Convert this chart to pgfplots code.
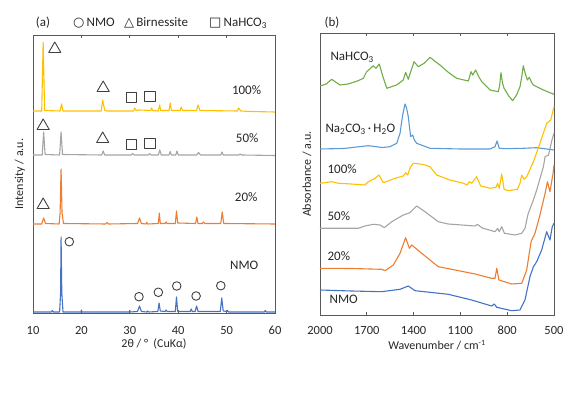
\documentclass[border=0pt]{standalone}
\usepackage{fontspec}
\setmainfont{Carlito}
\newfontfamily\symfont{DejaVu Sans}
\usepackage{pgfplots}
\pgfplotsset{compat=1.18}
\definecolor{cyel}{HTML}{FFC000}
\definecolor{cgry}{HTML}{A5A5A5}
\definecolor{corg}{HTML}{ED7D31}
\definecolor{cblu}{HTML}{4472C4}
\definecolor{clbl}{HTML}{5B9BD5}
\definecolor{cgrn}{HTML}{70AD47}
\definecolor{frame}{HTML}{595959}
\definecolor{mk}{HTML}{404040}
\definecolor{txt}{HTML}{262626}
\pgfplotsset{
  common/.style={scale only axis, anchor=south west, ytick=\empty,
    tick align=inside, major tick length=3pt,
    axis line style={draw=frame, line width=0.8pt}, tick style={draw=frame, line width=0.8pt},
    /pgf/number format/assume math mode=true, /pgf/number format/1000 sep={},
    ticklabel style={font=\fontsize{12.5}{14}\selectfont, text=txt},
    label style={font=\fontsize{12}{14}\selectfont, text=txt},
    ylabel style={at={(axis description cs:0,0.5)}, anchor=center, yshift=13pt},
    every axis plot/.append style={line width=1.1pt, line join=round},
    clip=false},
  mks/.style={only marks, mark options={draw=mk, line width=0.9pt, fill=none}}
}
\begin{document}
\begin{tikzpicture}[x=1pt,y=1pt]
\path (0,0) rectangle (579,393);
\node[font=\fontsize{13}{15}\selectfont, text=txt] at (43,370) {(a)};
\node[font=\fontsize{13}{15}\selectfont, text=txt] at (332,370) {(b)};
\node[font=\fontsize{13}{15}\selectfont, text=txt, anchor=west, inner sep=0] at (73,370) {{\symfont ○}\,NMO};
\node[font=\fontsize{13}{15}\selectfont, text=txt, anchor=west, inner sep=0] at (124,370) {{\symfont △}\,Birnessite};
\node[font=\fontsize{13}{15}\selectfont, text=txt, anchor=west, inner sep=0] at (209,370) {{\symfont □}\,NaHCO\textsubscript{3}};
\begin{axis}[common, at={(33pt,80pt)}, width=242pt, height=278pt,
  xmin=10, xmax=60, ymin=0, ymax=278, xtick={10,20,...,60},
  xticklabel style={anchor=center, yshift=-17pt},
  xlabel={2θ / °\ \ (CuKα)}, xlabel style={at={(axis description cs:0.5,0)}, anchor=center, yshift=-30.5pt},
  ylabel={Intensity / a.u.}]
\addplot[cblu] coordinates {(10,1) (13.8,1) (14,2.5) (14.2,1) (15.5,1) (15.7,20) (15.8,76) (15.95,20) (16.2,1) (19.9,1)(20,3)(20.1,1) (29.9,1)(30,2.5)(30.1,1) (31.6,1.5)(32,7)(32.4,1.5) (33.5,1)(33.7,2)(33.9,1) (35.8,1.5)(36.05,10)(36.3,2)(37.3,1.5)(37.5,3)(37.7,1.5) (39.4,1.5)(39.65,16)(39.9,1.5) (42.5,1.5)(42.7,4)(42.9,1.5)(43.5,1.5)(43.8,7)(44.1,1.5) (48.7,1.5)(49,15)(49.3,2)(50,1.5)(50.2,2.5)(50.4,1) (57.8,1)(58,2.5)(58.2,1)(60,1)};
\addplot[corg] coordinates {(10,89)(11.8,89)(12.2,95)(12.6,89.5)(15.4,89)(15.6,100)(15.8,144)(16.0,100)(16.3,89.5)(25,89)(25.3,90.5)(25.6,89)(31.6,89.5)(32,95)(32.4,89.5)(33.3,89)(33.5,90.5)(33.7,89)(35.9,89.5)(36.1,100)(36.3,89.5)(37.3,89.5)(37.5,91)(37.7,89.5)(39.4,89.5)(39.65,102)(39.9,90)(43.6,89.5)(43.85,96)(44.1,89.5)(45,89.5)(45.2,91)(45.5,89.5)(48.8,89.5)(49.1,101)(49.4,89.5)(60,89)};
\addplot[cgry] coordinates {(10,158)(11.9,158)(12.2,181)(12.5,158.5)(15.5,158)(15.8,181)(16.1,158.5)(24.2,158)(24.5,162)(24.8,158)(30.3,158)(30.6,159.5)(30.9,158)(33.8,158)(34.1,159.5)(34.4,158)(35.9,158)(36.2,163)(36.5,158)(38.1,158)(38.35,161.5)(38.6,158)(39.5,158)(39.75,162)(40,158)(43.8,158)(44.2,160.5)(44.6,158)(48.8,158)(49.05,161)(49.3,158)(52.5,158)(52.8,159)(53.1,158)(60,157.5)};
\addplot[cyel] coordinates {(10,202)(11.8,202)(12.1,271)(12.4,202.5)(15.6,202)(15.9,209)(16.2,202)(24.1,202)(24.4,213)(24.8,203)(25.3,202)(30.8,202)(31,205)(31.3,202.5)(32,203)(34.3,202.5)(34.5,205)(34.7,202.5)(35.9,202)(36.15,208)(36.4,202.5)(38.1,202.5)(38.35,210)(38.6,202.5)(40.4,202.5)(40.6,206)(40.9,202.5)(43.8,202.5)(44.1,208)(44.5,202.5)(52.2,202)(52.5,205)(52.9,202)(55,201.5)(60,201)};
\addplot[mks, mark=o, mark size=4.3pt] coordinates {(17.5,71.3)(31.9,16.3)(35.9,20.7)(39.7,27)(43.7,17)(48.8,27.3)};
\addplot[mks, mark=triangle, mark size=7pt] coordinates {(14.5,264)(24.5,225)(12.1,187)(24.4,174)(12.1,108)};
\addplot[mks, mark=square, mark size=5.2pt] coordinates {(30.4,215.3)(34.2,216.3)(30.4,168.7)(34.2,169.7)};
\node[anchor=west, font=\fontsize{13}{15}\selectfont, text=txt] at (axis cs:50.4,223) {100\%};
\node[anchor=west, font=\fontsize{13}{15}\selectfont, text=txt] at (axis cs:51.2,175) {50\%};
\node[anchor=west, font=\fontsize{13}{15}\selectfont, text=txt] at (axis cs:51.0,116) {20\%};
\node[anchor=west, font=\fontsize{13}{15}\selectfont, text=txt] at (axis cs:50.0,48) {NMO};
\end{axis}
\begin{axis}[common, at={(320pt,78pt)}, width=234pt, height=282pt,
  x dir=reverse, xmin=500, xmax=2000, ymin=0, ymax=282, xtick={500,800,...,2000},
  xticklabel style={anchor=center, yshift=-15pt},
  xlabel={Wavenumber / cm\textsuperscript{-1}}, xlabel style={at={(axis description cs:0.5,0)}, anchor=center, yshift=-30pt},
  ylabel={Absorbance / a.u.}]
\addplot[cgrn] coordinates {(2000,229)(1960,231)(1925,235.7)(1900,233)(1872,230)(1820,231)(1760,234)(1722,236.7)(1701,243.3)(1680,246)(1658,249.3)(1641,246.7)(1620,251)(1600,240)(1572,226.7)(1508,230)(1466,235)(1451,242.7)(1434,235.7)(1415,245)(1397,253.3)(1370,248.3)(1330,252)(1295,257.7)(1265,254)(1231,250)(1180,243)(1124,236.7)(1049,234)(1032,243.3)(1021,240)(1002,245)(985,239)(963,233.3)(910,225)(857,223.3)(848,230)(840,242.3)(830,232)(820,226.7)(790,219)(765,214.3)(740,220)(718,228.3)(705,240)(697,249.3)(685,242)(671,235)(658,237.7)(645,233)(632,230)(568,225)(500,220.7)};
\addplot[clbl] coordinates {(2000,166)(1850,166.5)(1690,169.3)(1600,167.5)(1551,168.3)(1508,171.7)(1487,181.7)(1470,200)(1455,211)(1445,207)(1434,198.3)(1419,178.3)(1406,180)(1395,175)(1380,171.7)(1295,166.7)(1100,166)(910,166)(878,168.3)(865,174)(851,166.7)(800,166.3)(697,166.7)(611,167.3)(500,165)};
\addplot[cyel] coordinates {(2000,131.7)(1925,133.3)(1882,131.7)(1800,131)(1712,130)(1690,133.3)(1647,136.7)(1622,140)(1594,132.3)(1519,136.7)(1466,139)(1451,142.3)(1438,140)(1420,148)(1402,151.7)(1360,151)(1327,150)(1295,148.3)(1252,140)(1167,135)(1081,131.7)(1056,130)(1043,133.3)(1028,131.7)(996,138.3)(970,129)(910,126.7)(872,127.7)(861,131.7)(851,126.7)(835,141)(820,125.7)(793,124.3)(735,125.7)(718,131.7)(707,140)(692,135.7)(675,138.3)(632,153.3)(590,171.7)(547,191.7)(521,195)(500,208.3)};
\addplot[cgry] coordinates {(2000,86.7)(1754,86.7)(1712,89)(1658,90.7)(1615,90)(1588,87.3)(1540,93.3)(1466,100)(1423,102.3)(1380,109)(1327,103.3)(1242,93.3)(1178,91)(1006,89)(991,90.7)(960,87)(878,83.3)(861,86.7)(851,83.3)(835,88.3)(818,81.7)(750,80)(707,81.7)(686,86.7)(665,101.7)(632,115)(611,125)(568,148.3)(557,158.3)(535,160)(513,175)(500,182)};
\addplot[corg] coordinates {(2000,46.7)(1800,46.5)(1605,45.7)(1583,44.3)(1530,50)(1487,61.7)(1451,77.3)(1427,66.7)(1412,70)(1348,61.7)(1242,48.3)(1134,45)(1006,41)(900,36.7)(878,36.7)(867,46.7)(853,35)(771,31)(707,31.7)(675,45)(647,73.3)(622,81.7)(590,100)(557,121.7)(542,133.3)(526,123.3)(506,141.7)(500,150)};
\addplot[cblu] coordinates {(2000,25)(1800,24)(1605,23.3)(1487,25.7)(1434,29)(1391,24.3)(1178,20.7)(1028,15)(900,9)(883,11)(867,7.7)(771,4.3)(718,5)(686,15)(654,38.3)(632,48.3)(611,53.3)(579,65)(547,83.3)(526,75)(511,88.3)(500,91.7)};
\node[anchor=west, font=\fontsize{13}{15}\selectfont, text=txt] at (axis cs:1955,258) {NaHCO\textsubscript{3}};
\node[anchor=west, font=\fontsize{13}{15}\selectfont, text=txt] at (axis cs:1987,186) {Na\textsubscript{2}CO\textsubscript{3}\,·\,H\textsubscript{2}O};
\node[anchor=west, font=\fontsize{13}{15}\selectfont, text=txt] at (axis cs:1974,146) {100\%};
\node[anchor=west, font=\fontsize{13}{15}\selectfont, text=txt] at (axis cs:1974,99) {50\%};
\node[anchor=west, font=\fontsize{13}{15}\selectfont, text=txt] at (axis cs:1974,59) {20\%};
\node[anchor=west, font=\fontsize{13}{15}\selectfont, text=txt] at (axis cs:1961,16) {NMO};
\end{axis}
\end{tikzpicture}
\end{document}
